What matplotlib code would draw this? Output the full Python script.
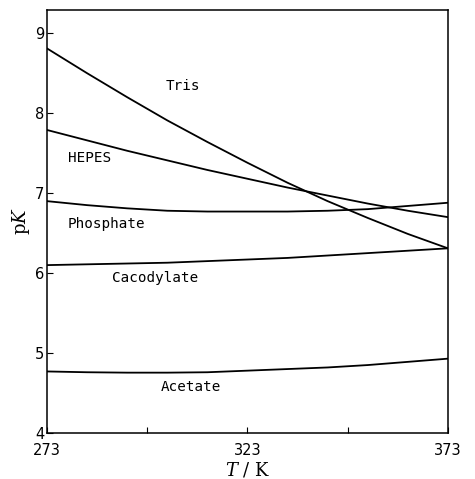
import numpy as np
import matplotlib.pyplot as plt

# temperatura (K) y pK
temp = [273, 283, 293, 303, 313, 323, 333, 343, 353, 363, 373]
pk_tris = [8.81, 8.50, 8.20, 7.91, 7.64, 7.38, 7.13, 6.90, 6.69, 6.49, 6.31]
pk_hepes = [7.79, 7.66, 7.53, 7.41, 7.29, 7.18, 7.07, 6.97, 6.87, 6.78, 6.70]
pk_fosfato = [6.90, 6.85, 6.81, 6.78, 6.77, 6.77, 6.77, 6.78, 6.80, 6.84, 6.88]
pk_cacodilato = [6.10, 6.11, 6.12, 6.13, 6.15, 6.17, 6.19, 6.22, 6.25, 6.28, 6.31]
pk_acetato = [4.77, 4.76, 4.755, 4.755, 4.76, 4.78, 4.80, 4.82, 4.85, 4.89, 4.93]

series = [pk_tris, pk_hepes, pk_fosfato, pk_cacodilato, pk_acetato]
nombres = ['Tris', 'HEPES', 'Phosphate', 'Cacodylate', 'Acetate']
pos_etiquetas = [(307, 8.34), (283.5, 7.44), (287.7, 6.62), (300, 5.94), (309, 4.57)]

plt.rcParams['mathtext.fontset'] = 'dejavuserif'

fig = plt.figure(figsize=(4.75, 4.79), dpi=100)
ax = fig.add_axes([0.099, 0.096, 0.844, 0.883])

for s in series:
    ax.plot(temp, s, color='black', lw=1.3)

for nombre, (x, y) in zip(nombres, pos_etiquetas):
    ax.text(x, y, nombre, family='DejaVu Sans Mono', fontsize=10.3,
            ha='center', va='center')

ax.set_xlim(273, 373)
ax.set_ylim(4, 9.29)
ax.set_xticks([273, 298, 323, 348, 373])
ax.set_xticklabels(['273', '', '323', '', '373'])
ax.set_yticks([4, 5, 6, 7, 8, 9])
ax.tick_params(direction='in', length=4, labelsize=10.5, width=0.8)
ax.tick_params(axis='x', pad=7)
ax.tick_params(axis='y', pad=2)
for sp in ax.spines.values():
    sp.set_linewidth(1.1)

ax.set_xlabel(r'$T\ /\ \mathrm{K}$', fontsize=13, labelpad=2)
ax.set_ylabel(r'$\mathrm{p}K$', fontsize=13, labelpad=2)

fig.savefig('out.png', dpi=100)
